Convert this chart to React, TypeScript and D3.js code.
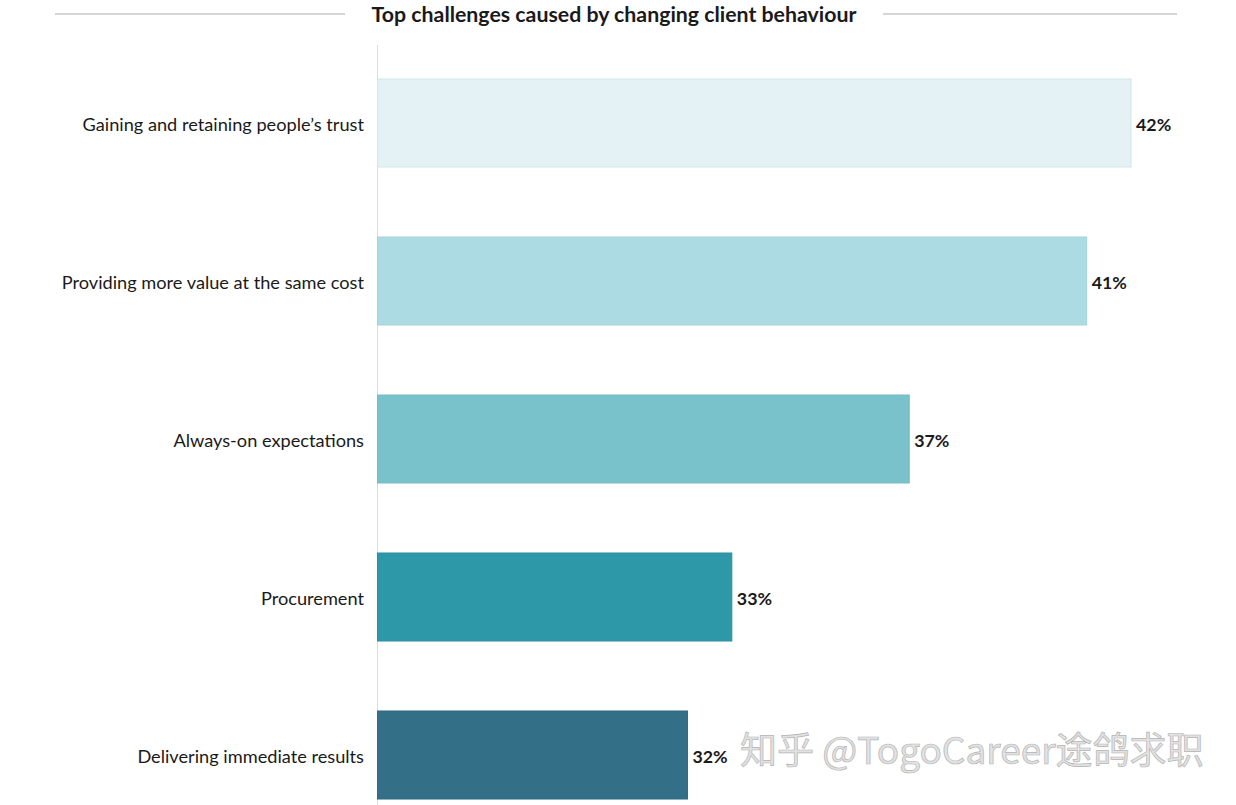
import React from "react";
import * as d3 from "d3";

const categories = [
  "Gaining and retaining people\u2019s trust",
  "Providing more value at the same cost",
  "Always-on expectations",
  "Procurement",
  "Delivering immediate results",
];
const values = [42, 41, 37, 33, 32];
const barColors = ["#e4f2f6", "#acdbe3", "#79c2cc", "#2d98a8", "#336f87"];
const barStrokes = ["#d3e6ec", "#a3d4dd", "#73bcc7", "#2a91a1", "#2f6a81"];
const title = "Top challenges caused by changing client behaviour";
const watermark = "知乎 @TogoCareer途鸽求职";

const W = 1236;
const H = 805;

export default function App() {
  const x = d3.scaleLinear().domain([25, 42]).range([377, 1131]);
  const y = d3
    .scaleBand<string>()
    .domain(categories)
    .range([9, 869])
    .paddingInner(0.443)
    .paddingOuter(0.443);

  const font = "Lato, 'Open Sans', sans-serif";

  return (
    <svg
      width={W}
      height={H}
      style={{ position: "absolute", left: 0, top: 0, background: "#fff" }}
    >
      {/* title lines */}
      <line x1={55} x2={345} y1={14} y2={14} stroke="#d6d6d6" strokeWidth={2} />
      <line x1={883} x2={1177} y1={14} y2={14} stroke="#d6d6d6" strokeWidth={2} />
      <text
        x={614}
        y={21.5}
        textAnchor="middle"
        fontFamily={font}
        fontWeight={700}
        fontSize={21.3}
        fill="#1a1a1a"
      >
        {title}
      </text>

      {/* axis line */}
      <line x1={377.5} x2={377.5} y1={45} y2={805} stroke="#dcdcdc" strokeWidth={1} />

      {categories.map((c, i) => {
        const by = y(c)!;
        const bw = y.bandwidth();
        const x0 = x(25);
        const x1 = x(values[i]);
        return (
          <g key={c}>
            <rect
              x={x0 + 0.5}
              y={by}
              width={x1 - x0 - 0.5}
              height={bw}
              fill={barColors[i]}
              stroke={barStrokes[i]}
              strokeWidth={1}
            />
            <text
              x={364}
              y={by + bw / 2 + 3}
              textAnchor="end"
              dominantBaseline="middle"
              fontFamily={font}
              fontSize={18.2}
              fill="#1a1a1a"
            >
              {c}
            </text>
            <text
              x={x1 + 5}
              y={by + bw / 2 + 3}
              dominantBaseline="middle"
              fontFamily={font}
              fontWeight={700}
              fontSize={17.8}
              fill="#1a1a1a"
            >
              {values[i] + "%"}
            </text>
          </g>
        );
      })}

      {/* watermark */}
      <text
        x={740}
        y={764}
        fontFamily="'Noto Sans CJK SC', sans-serif"
        fontSize={37}
        fill="#e2e2e2"
        stroke="#b5b5b5"
        strokeWidth={0.7}
      >
        {watermark}
      </text>
    </svg>
  );
}
